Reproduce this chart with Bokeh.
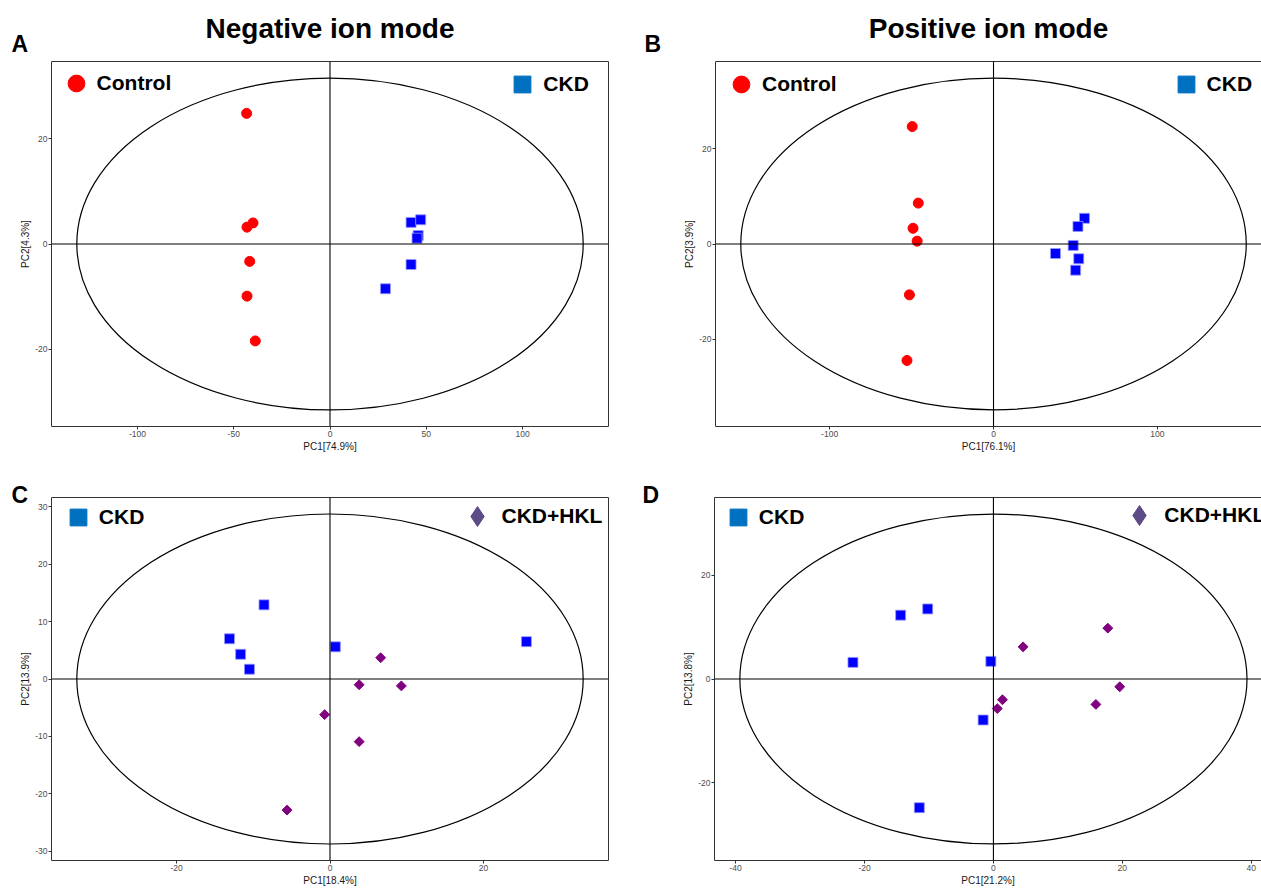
from bokeh.plotting import figure
from bokeh.layouts import column, row
from bokeh.models import (Range1d, FixedTicker, Span, Title, Legend, LegendItem,
                          LinearAxis)
from bokeh.embed import file_html
from bokeh.resources import INLINE

# ---------------- data (PCA scores) ----------------
A_ctrl_pc1 = [-43.3, -40.0, -43.1, -41.7, -43.1, -38.8]
A_ctrl_pc2 = [24.8, 4.0, 3.2, -3.3, -9.9, -18.4]
A_ckd_pc1 = [42.1, 47.1, 45.8, 45.2, 42.1, 28.8]
A_ckd_pc2 = [4.1, 4.6, 1.6, 1.1, -3.9, -8.5]

B_ctrl_pc1 = [-49.6, -45.9, -49.1, -46.6, -51.3, -52.8]
B_ctrl_pc2 = [24.7, 8.6, 3.3, 0.6, -10.7, -24.5]
B_ckd_pc1 = [55.5, 51.5, 48.6, 37.8, 52.0, 50.1]
B_ckd_pc2 = [5.4, 3.7, -0.3, -2.0, -3.1, -5.5]

C_ckd_pc1 = [-8.6, -13.1, -11.65, -10.5, 0.7, 25.6]
C_ckd_pc2 = [12.9, 7.0, 4.3, 1.7, 5.6, 6.5]
C_hkl_pc1 = [6.6, 3.8, 9.3, -0.7, 3.8, -5.6]
C_hkl_pc2 = [3.7, -1.0, -1.2, -6.2, -10.9, -22.8]

D_ckd_pc1 = [-21.8, -14.4, -10.2, -0.4, -1.6, -11.5]
D_ckd_pc2 = [3.2, 12.3, 13.5, 3.4, -7.9, -24.8]
D_hkl_pc1 = [4.6, 17.75, 19.6, 15.9, 1.4, 0.6]
D_hkl_pc2 = [6.2, 9.8, -1.5, -4.9, -4.0, -5.7]

# 95% confidence ellipse semi-axes (PC1, PC2)
A_ellipse = [131.5, 31.5]
B_ellipse = [154.2, 34.9]
C_ellipse = [33.0, 28.7]
D_ellipse = [39.35, 31.8]

# axis labels and ticks
A_xlabel, A_ylabel = "PC1[74.9%]", "PC2[4.3%]"
B_xlabel, B_ylabel = "PC1[76.1%]", "PC2[3.9%]"
C_xlabel, C_ylabel = "PC1[18.4%]", "PC2[13.9%]"
D_xlabel, D_ylabel = "PC1[21.2%]", "PC2[13.8%]"
A_xticks, A_yticks = [-100, -50, 0, 50, 100], [-20, 0, 20]
B_xticks, B_yticks = [-100, 0, 100], [-20, 0, 20]
C_xticks, C_yticks = [-20, 0, 20], [-30, -20, -10, 0, 10, 20, 30]
D_xticks, D_yticks = [-40, -20, 0, 20, 40], [-20, 0, 20]
# right end of the visible x axis for the cropped right-hand panels
B_xend = 163.5
D_xend = 41.6

titles = ["Negative ion mode", "Positive ion mode"]
letters = ["A", "B", "C", "D"]

FONT = "Liberation Sans"
RED = "#FF0000"
BLUE = "#0000FF"
PURPLE = "#800080"
LEG_BLUE = "#0070C0"
LEG_PURPLE = "#5D4B87"
FRAME = "#333333"
DIAMOND = 0.7853981634


def style_axis(ax, ticks, label, line):
    ax.ticker = FixedTicker(ticks=ticks)
    ax.major_label_overrides = {t: str(t) for t in ticks}
    ax.axis_label = label
    ax.axis_label_text_font = FONT
    ax.axis_label_text_font_size = "10px"
    ax.axis_label_text_font_style = "normal"
    ax.axis_label_text_color = "#1a1a1a"
    ax.axis_label_standoff = 1
    ax.major_label_text_font = FONT
    ax.major_label_text_font_size = "8.5px"
    ax.major_label_text_color = "#4D4D4D"
    ax.major_label_standoff = 1
    ax.major_tick_in = 0
    ax.major_tick_out = 3
    ax.major_tick_line_color = FRAME
    ax.minor_tick_line_color = None
    ax.axis_line_color = FRAME if line else None


def legend_at(p, renderer, text, center, box=42):
    # center: glyph centre in frame pixels; box: legend glyph box size
    half = box / 2
    leg = Legend(items=[LegendItem(label=text, renderers=[renderer])],
                 location=(center[0] - half, center[1] - half),
                 padding=0, margin=0, spacing=0,
                 glyph_width=box, glyph_height=box, label_standoff=0,
                 label_text_font=FONT, label_text_font_style="bold",
                 label_text_font_size="21px", label_text_color="black",
                 border_line_color=None, background_fill_alpha=0,
                 inactive_fill_alpha=0)
    p.add_layout(leg)


def make_panel(width, height, borders, xr, yr, ell, xticks, yticks, xlabel, ylabel,
               cropped):
    left, right, top, bottom = borders
    p = figure(width=width, height=height, title=None,
               x_range=Range1d(*xr), y_range=Range1d(*yr),
               output_backend="svg", toolbar_location=None,
               min_border_left=left, min_border_right=right,
               min_border_top=top, min_border_bottom=bottom)
    p.xgrid.visible = False
    p.ygrid.visible = False
    p.background_fill_color = "white"
    p.border_fill_color = "white"
    style_axis(p.xaxis[0], xticks, xlabel, cropped)
    style_axis(p.yaxis[0], yticks, ylabel, cropped)
    if cropped:
        p.outline_line_color = None
        top_ax = LinearAxis(ticker=FixedTicker(ticks=[]), axis_line_color=FRAME,
                            major_tick_line_color=None, minor_tick_line_color=None,
                            major_label_text_font_size="0px")
        p.add_layout(top_ax, "above")
    else:
        p.outline_line_color = FRAME
        p.outline_line_width = 1
    p.ellipse(x=[0], y=[0], width=[2 * ell[0]], height=[2 * ell[1]],
              fill_color=None, line_color="black", line_width=1.2)
    p.add_layout(Span(location=0, dimension="width", line_color="black", line_width=1.1))
    p.add_layout(Span(location=0, dimension="height", line_color="black", line_width=1.1))
    return p


def add_text(p, letter, loffset, lstandoff, title=None, tstandoff=0):
    p.add_layout(Title(text=letter, align="left", offset=loffset, standoff=lstandoff,
                       vertical_align="bottom", text_font=FONT, text_font_style="bold",
                       text_font_size="23px", text_color="black"), "above")
    if title is not None:
        p.add_layout(Title(text=title, align="center", standoff=tstandoff,
                           vertical_align="bottom", text_font=FONT,
                           text_font_style="bold", text_font_size="28px",
                           text_color="black"), "above")


def sym(v):
    return (-1.1 * v, 1.1 * v)


# ---------------- Panel A ----------------
pA = make_panel(630, 470, (51, 22, 61, 44), sym(A_ellipse[0]), sym(A_ellipse[1]),
                A_ellipse, A_xticks, A_yticks, A_xlabel, A_ylabel, False)
pA.scatter(A_ctrl_pc1, A_ctrl_pc2, marker="circle", size=10, fill_color=RED, line_color=RED)
pA.scatter(A_ckd_pc1, A_ckd_pc2, marker="square", size=10, fill_color=BLUE,
           line_color="#9a9aff", line_width=0.8)
kA1 = pA.scatter(A_ctrl_pc1, A_ctrl_pc2, marker="circle", fill_color=RED, line_color=RED,
                 visible=False)
kA2 = pA.scatter(A_ckd_pc1, A_ckd_pc2, marker="square", fill_color=LEG_BLUE,
                 line_color=LEG_BLUE, visible=False)
legend_at(pA, kA1, "Control", (24.6, 342.8))
legend_at(pA, kA2, "CKD", (471.3, 341.8))
add_text(pA, letters[0], -40, 9, titles[0], -38)

# ---------------- Panel B ----------------
pB = make_panel(631, 470, (85, 0, 61, 44), (-1.1 * B_ellipse[0], B_xend), sym(B_ellipse[1]),
                B_ellipse, B_xticks, B_yticks, B_xlabel, B_ylabel, True)
pB.scatter(B_ctrl_pc1, B_ctrl_pc2, marker="circle", size=10, fill_color=RED, line_color=RED)
pB.scatter(B_ckd_pc1, B_ckd_pc2, marker="square", size=10, fill_color=BLUE,
           line_color="#9a9aff", line_width=0.8)
kB1 = pB.scatter(B_ctrl_pc1, B_ctrl_pc2, marker="circle", fill_color=RED, line_color=RED,
                 visible=False)
kB2 = pB.scatter(B_ckd_pc1, B_ckd_pc2, marker="square", fill_color=LEG_BLUE,
                 line_color=LEG_BLUE, visible=False)
legend_at(pB, kB1, "Control", (26.0, 342.5))
legend_at(pB, kB2, "CKD", (470.6, 342.3))
add_text(pB, letters[1], -71, 9, titles[1], -38)

# ---------------- Panel C ----------------
pC = make_panel(630, 418, (51, 22, 27, 26), sym(C_ellipse[0]), sym(C_ellipse[1]),
                C_ellipse, C_xticks, C_yticks, C_xlabel, C_ylabel, False)
pC.scatter(C_ckd_pc1, C_ckd_pc2, marker="square", size=10, fill_color=BLUE,
           line_color="#9a9aff", line_width=0.8)
pC.scatter(C_hkl_pc1, C_hkl_pc2, marker="square", angle=DIAMOND, size=7,
           fill_color=PURPLE, line_color=PURPLE)
kC1 = pC.scatter(C_ckd_pc1, C_ckd_pc2, marker="square", fill_color=LEG_BLUE,
                 line_color=LEG_BLUE, visible=False)
kC2 = pC.scatter(C_hkl_pc1, C_hkl_pc2, marker="diamond",
                 fill_color=LEG_PURPLE, line_color=LEG_PURPLE, visible=False)
legend_at(pC, kC1, "CKD", (26.8, 342.8))
legend_at(pC, kC2, "CKD+HKL", (425.5, 344.5), box=50)
add_text(pC, letters[2], -40, -20)

# ---------------- Panel D ----------------
pD = make_panel(631, 418, (84, 0, 27, 26), (-1.1 * D_ellipse[0], D_xend), sym(D_ellipse[1]),
                D_ellipse, D_xticks, D_yticks, D_xlabel, D_ylabel, True)
pD.scatter(D_ckd_pc1, D_ckd_pc2, marker="square", size=10, fill_color=BLUE,
           line_color="#9a9aff", line_width=0.8)
pD.scatter(D_hkl_pc1, D_hkl_pc2, marker="square", angle=DIAMOND, size=7,
           fill_color=PURPLE, line_color=PURPLE)
kD1 = pD.scatter(D_ckd_pc1, D_ckd_pc2, marker="square", fill_color=LEG_BLUE,
                 line_color=LEG_BLUE, visible=False)
kD2 = pD.scatter(D_hkl_pc1, D_hkl_pc2, marker="diamond",
                 fill_color=LEG_PURPLE, line_color=LEG_PURPLE, visible=False)
legend_at(pD, kD1, "CKD", (23.8, 342.8))
legend_at(pD, kD2, "CKD+HKL", (425.3, 344.8), box=50)
add_text(pD, letters[3], -72, -20)

layout = column(row(pA, pB, spacing=0), row(pC, pD, spacing=0), spacing=0)
open("out.html", "w").write(file_html(layout, INLINE))
